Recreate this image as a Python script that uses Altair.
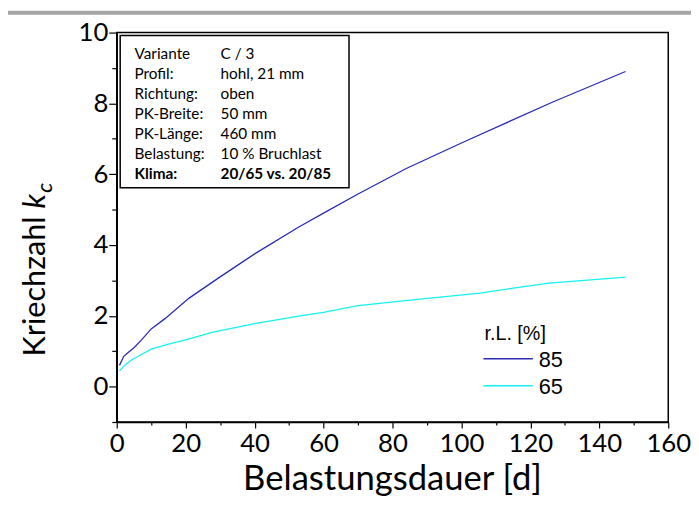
import altair as alt
import pandas as pd

# --- data ---
days_85 = [0.8, 2, 2.8, 5, 7, 10, 14, 21, 30, 40, 52.7, 60, 70, 84, 100, 113, 126.5, 147.6]
kc_85 = [0.6, 0.85, 0.92, 1.1, 1.3, 1.63, 1.92, 2.5, 3.1, 3.75, 4.5, 4.9, 5.44, 6.16, 6.88, 7.45, 8.04, 8.9]

days_65 = [0.8, 2.3, 4.4, 7, 10, 15, 20, 27.6, 40, 52.7, 60, 70, 88, 105.4, 115, 125.5, 147.6]
kc_65 = [0.45, 0.6, 0.76, 0.9, 1.06, 1.2, 1.32, 1.53, 1.78, 1.99, 2.1, 2.29, 2.47, 2.64, 2.78, 2.92, 3.09]

series = ["85", "65"]
colors = ["#2b2bb5", "#14f2f2"]

x_ticks = list(range(0, 161, 10))
y_ticks = list(range(-1, 11))

info_left = ["Variante", "Profil:", "Richtung:", "PK-Breite:", "PK-Länge:", "Belastung:"]
info_right = ["C / 3", "hohl, 21 mm", "oben", "50 mm", "460 mm", "10 % Bruchlast"]
info_bold_left = "Klima:"
info_bold_right = "20/65 vs. 20/85"

legend_title = "r.L. [%]"
x_title = "Belastungsdauer [d]"
y_title_main = "Kriechzahl"
y_title_sym = "k"
y_title_sub = "c"

rows = []
for d, k in zip(days_85, kc_85):
    rows.append({"day": d, "kc": k, "rl": "85"})
for d, k in zip(days_65, kc_65):
    rows.append({"day": d, "kc": k, "rl": "65"})
df = pd.DataFrame(rows)

MAIN = "Lato, Carlito, Calibri, sans-serif"
ARIAL = "Liberation Sans, Arial, sans-serif"

one = pd.DataFrame({"a": [0]})

lines = alt.Chart(df).mark_line(strokeWidth=1.3, clip=True).encode(
    x=alt.X("day:Q", scale=alt.Scale(domain=[0, 160], nice=False),
            axis=alt.Axis(values=x_ticks,
                          labelExpr="datum.value % 20 == 0 ? datum.label : ''",
                          tickSize={"condition": {"test": "datum.value % 20 == 0", "value": 6}, "value": 3},
                          labelFont=MAIN, labelFontSize=26, labelPadding=3,
                          labelOverlap=False, labelFlush=False,
                          title=None, grid=False)),
    y=alt.Y("kc:Q", scale=alt.Scale(domain=[-1, 10], nice=False),
            axis=alt.Axis(values=y_ticks,
                          labelExpr="datum.value % 2 == 0 ? datum.label : ''",
                          tickSize={"condition": {"test": "datum.value % 2 == 0", "value": 8}, "value": 5},
                          labelFont=MAIN, labelFontSize=26, labelPadding=1,
                          labelOverlap=False, labelFlush=False,
                          title=None, grid=False)),
    color=alt.Color("rl:N", scale=alt.Scale(domain=series, range=colors), legend=None),
    detail="rl:N",
)

box = alt.Chart(one).mark_rect(fill="white", stroke="black", strokeWidth=1.5).encode(
    x=alt.value(3.5), x2=alt.value(235), y=alt.value(3), y2=alt.value(157)
)

lh = 20.2
FS_BOX = 15.5
txt_left = alt.Chart(one).mark_text(text=info_left, align="left", baseline="alphabetic",
                                    font=MAIN, fontSize=FS_BOX, lineHeight=lh, color="black").encode(
    x=alt.value(18), y=alt.value(26.5))
txt_right = alt.Chart(one).mark_text(text=info_right, align="left", baseline="alphabetic",
                                     font=MAIN, fontSize=FS_BOX, lineHeight=lh, color="black").encode(
    x=alt.value(105), y=alt.value(26.5))
txt_bl = alt.Chart(one).mark_text(text=info_bold_left, align="left", baseline="alphabetic",
                                  font=MAIN, fontSize=FS_BOX, fontWeight="bold", color="black").encode(
    x=alt.value(18), y=alt.value(26.5 + 6 * lh))
txt_br = alt.Chart(one).mark_text(text=info_bold_right, align="left", baseline="alphabetic",
                                  font=MAIN, fontSize=FS_BOX, fontWeight="bold", color="black").encode(
    x=alt.value(105), y=alt.value(26.5 + 6 * lh))

# legend drawn by hand
leg_title = alt.Chart(one).mark_text(text=legend_title, align="left", baseline="alphabetic",
                                     font=ARIAL, fontSize=20, color="black").encode(
    x=alt.value(372), y=alt.value(311.5))
leg_l1 = alt.Chart(one).mark_rule(color=colors[0], strokeWidth=1.3).encode(
    x=alt.value(371), x2=alt.value(421), y=alt.value(330))
leg_l2 = alt.Chart(one).mark_rule(color=colors[1], strokeWidth=1.3).encode(
    x=alt.value(371), x2=alt.value(421), y=alt.value(357.3))
leg_t1 = alt.Chart(one).mark_text(text=series[0], align="left", baseline="alphabetic",
                                  font=ARIAL, fontSize=22, color="black").encode(
    x=alt.value(427), y=alt.value(338.3))
leg_t2 = alt.Chart(one).mark_text(text=series[1], align="left", baseline="alphabetic",
                                  font=ARIAL, fontSize=22, color="black").encode(
    x=alt.value(427), y=alt.value(365.6))

# x title
xt = alt.Chart(one).mark_text(text=x_title, align="center", baseline="alphabetic",
                              font=MAIN, fontSize=35, color="black").encode(
    x=alt.value(279), y=alt.value(463))

# y title: "Kriechzahl k_c"
yt1 = alt.Chart(one).mark_text(text=y_title_main, angle=270, align="right", baseline="alphabetic",
                               font=MAIN, fontSize=31, color="black").encode(
    x=alt.value(-73), y=alt.value(186))
yt2 = alt.Chart(one).mark_text(text=y_title_sym, angle=270, align="left", baseline="alphabetic",
                               font=MAIN, fontSize=31, fontStyle="italic", color="black").encode(
    x=alt.value(-73), y=alt.value(178))
yt3 = alt.Chart(one).mark_text(text=y_title_sub, angle=270, align="left", baseline="alphabetic",
                               font=MAIN, fontSize=22, fontStyle="italic", color="black").encode(
    x=alt.value(-65), y=alt.value(162))

topbar = alt.Chart(one).mark_rule(color="#a6a6a6", strokeWidth=4).encode(
    x=alt.value(-110), x2=alt.value(581), y=alt.value(-20))

chart = alt.layer(
    lines, box, txt_left, txt_right, txt_bl, txt_br,
    leg_title, leg_l1, leg_l2, leg_t1, leg_t2, xt, yt1, yt2, yt3, topbar
).properties(
    width=558, height=394,
    autosize=alt.AutoSizeParams(type="none"),
    padding={"left": 110, "top": 22, "right": 23, "bottom": 73},
    background="white",
).configure_view(
    stroke="black", strokeWidth=1.5
).configure_axis(
    domainColor="black", domainWidth=1.5, tickColor="black", tickWidth=1.2,
    labelColor="black", titleColor="black"
)

chart.save("out.html", embed_options={"renderer": "svg", "actions": False})
